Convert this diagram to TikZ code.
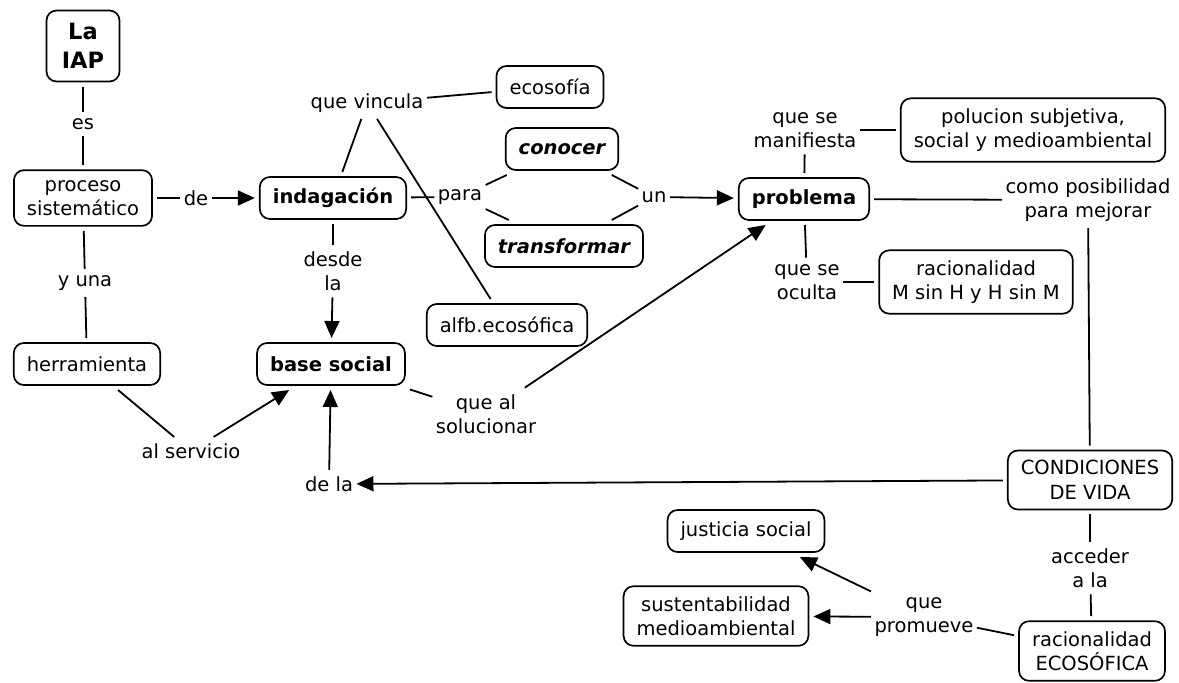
\documentclass[tikz,border=0pt]{standalone}
\usepackage{fontspec}
\setmainfont{DejaVu Sans}
\usetikzlibrary{arrows.meta}

\tikzset{
  basefont/.style={font=\fontsize{19.5}{24.5}\selectfont},
  concept/.style={draw, line width=1.7pt, rounded corners=10pt,
    inner xsep=13pt, inner ysep=10pt, minimum height=42pt,
    align=center, outer sep=5pt, basefont},
  linkword/.style={inner xsep=2pt, inner ysep=5pt, outer sep=1.5pt,
    align=center, basefont},
  conn/.style={line width=1.8pt},
  arr/.style={conn, -{Triangle[length=17pt,width=15pt]}},
}

\begin{document}
\begin{tikzpicture}[x=1pt,y=-1pt]
\useasboundingbox (0,0) rectangle (1179,683);

% concepts
\node[concept, minimum height=71pt, minimum width=73pt,
      font=\fontsize{22.5}{29}\selectfont\bfseries] (iap) at (83,46) {La\\IAP};
\node[concept] (proceso) at (83,198) {proceso\\sistemático};
\node[concept, font=\fontsize{19.5}{24.5}\selectfont\bfseries] (indag) at (333,198) {indagación};
\node[concept] (ecosofia) at (550,87) {ecosofía};
\node[concept, font=\fontsize{19.5}{24.5}\selectfont\bfseries\itshape] (conocer) at (562,149) {conocer};
\node[concept, font=\fontsize{19.5}{24.5}\selectfont\bfseries\itshape] (transformar) at (564,246) {transformar};
\node[concept, font=\fontsize{19.5}{24.5}\selectfont\bfseries] (problema) at (804,199) {problema};
\node[concept] (polucion) at (1033,130) {polucion subjetiva,\\social y medioambiental};
\node[concept] (racM) at (976,282) {racionalidad\\M sin H y H sin M};
\node[concept] (alfb) at (507,325) {alfb.ecosófica};
\node[concept, font=\fontsize{19.5}{24.5}\selectfont\bfseries] (basesocial) at (331,364) {base social};
\node[concept] (herr) at (87,364) {herramienta};
\node[concept] (condiciones) at (1090,480) {CONDICIONES\\DE VIDA};
\node[concept] (ecosofica) at (1092,651) {racionalidad\\ECOSÓFICA};
\node[concept] (justicia) at (746,531) {justicia social};
\node[concept] (sustent) at (716,616) {sustentabilidad\\medioambiental};

% linking phrases
\node[linkword] (es) at (83,124) {es};
\node[linkword] (de) at (196,198) {de};
\node[linkword] (yuna) at (85,283) {y una};
\node[linkword] (vincula) at (367,103) {que vincula};
\node[linkword] (para) at (460,197) {para};
\node[linkword] (un) at (654,197) {un};
\node[linkword] (desde) at (333,271) {desde\\la};
\node[linkword] (alservicio) at (191,451) {al servicio};
\node[linkword] (solucionar) at (486,414) {que al\\solucionar};
\node[linkword] (manifiesta) at (805,130) {que se\\manifiesta};
\node[linkword] (oculta) at (807,282) {que se\\oculta};
\node[linkword] (posibilidad) at (1088,200) {como posibilidad\\para mejorar};
\node[linkword] (dela) at (329,484) {de la};
\node[linkword] (acceder) at (1090,568) {acceder\\a la};
\node[linkword] (promueve) at (924,617) {que\\promueve};

% connectors
\draw[conn] (iap) -- (es);
\draw[conn] (es) -- (proceso);
\draw[conn] (proceso) -- (de);
\draw[arr] (de) -- (indag);
\draw[conn] (proceso) -- (yuna);
\draw[conn] (yuna) -- (herr);
\draw[conn] (indag) -- (vincula);
\draw[conn] (vincula) -- (ecosofia);
\draw[conn] (vincula) -- (alfb);
\draw[conn] (indag) -- (para);
\draw[conn] (para) -- (conocer);
\draw[conn] (para) -- (transformar);
\draw[conn] (conocer) -- (un);
\draw[conn] (transformar) -- (un);
\draw[arr] (un) -- (problema);
\draw[conn] (indag) -- (desde);
\draw[arr] (desde) -- (basesocial);
\draw[conn] (herr) -- (alservicio);
\draw[arr] (alservicio) -- (basesocial);
\draw[conn] (basesocial) -- (solucionar);
\draw[arr] (solucionar) -- (problema);
\draw[conn] (problema) -- (manifiesta);
\draw[conn] (manifiesta) -- (polucion);
\draw[conn] (problema) -- (oculta);
\draw[conn] (oculta) -- (racM);
\draw[conn] (problema) -- (posibilidad);
\draw[conn] (posibilidad) -- (condiciones);
\draw[arr] (condiciones) -- (dela);
\draw[arr] (dela) -- (basesocial);
\draw[conn] (condiciones) -- (acceder);
\draw[conn] (acceder) -- (ecosofica);
\draw[conn] (ecosofica) -- (promueve);
\draw[arr] (promueve) -- (justicia);
\draw[arr] (promueve) -- (sustent);
\end{tikzpicture}
\end{document}
